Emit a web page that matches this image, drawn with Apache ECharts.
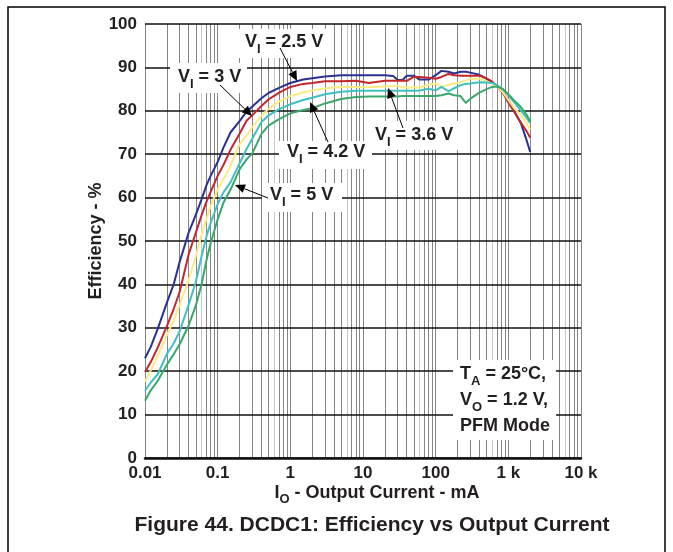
<!DOCTYPE html>
<html>
<head>
<meta charset="utf-8">
<title>DCDC1: Efficiency vs Output Current</title>
<script src="https://cdn.jsdelivr.net/npm/echarts@6/dist/echarts.min.js"></script>
<style>
  html, body { margin: 0; padding: 0; background: #fff; }
  #chart { width: 673px; height: 552px; }
</style>
</head>
<body>
<div id="chart"></div>
<script>
// output current in mA, shared by all curves
const current = [0.01, 0.012, 0.015, 0.02, 0.025, 0.03, 0.04, 0.05, 0.06, 0.07, 0.08, 0.1, 0.12, 0.15, 0.2, 0.25, 0.3, 0.4, 0.5, 0.7,
  1, 1.5, 2, 3, 5, 8, 12, 20, 26, 30, 35, 40, 50, 60, 80, 100, 120, 150, 180, 220, 260, 300, 400, 500, 600, 700, 850, 1000, 1200, 1500, 1800, 2000]

// efficiency in % for each input voltage
const effVi25 = [23.0, 25.6, 29.8, 35.8, 40.2, 45.2, 52.0, 56.0, 59.6, 62.8, 65.0, 68.2, 71.5, 75.0, 77.6, 79.8, 81.0, 82.9, 84.1, 85.3,
  86.4, 87.2, 87.5, 87.9, 88.2, 88.2, 88.2, 88.2, 88.0, 87.1, 87.1, 88.1, 88.1, 87.2, 87.2, 88.2, 89.2, 89.0, 88.6, 89.0, 89.0, 88.8, 88.3, 87.4, 86.6, 85.6, 84.2, 82.6, 80.0, 77.0, 73.0, 70.5]
const effVi3 = [19.8, 22.1, 25.5, 30.4, 34.5, 38.3, 47.0, 51.9, 55.9, 59.0, 61.3, 65.0, 67.5, 71.0, 74.7, 77.7, 79.0, 81.1, 82.6, 84.2,
  85.5, 86.2, 86.4, 86.8, 86.8, 86.9, 86.4, 86.9, 86.9, 86.9, 86.9, 86.9, 87.8, 87.8, 87.6, 87.4, 87.8, 88.5, 88.2, 88.1, 88.1, 88.1, 88.1, 87.5, 86.7, 85.6, 84.0, 81.9, 79.8, 77.2, 75.2, 73.8]
const effVi36 = [17.6, 20.2, 23.6, 28.3, 31.9, 35.3, 41.0, 46.5, 51.5, 55.0, 58.1, 61.9, 64.2, 67.3, 72.3, 74.3, 76.2, 78.9, 80.4, 82.1,
  83.4, 84.2, 84.7, 85.2, 85.5, 85.5, 85.4, 85.6, 85.7, 85.8, 85.4, 85.3, 85.4, 85.3, 86.0, 86.3, 85.5, 86.0, 86.3, 86.6, 87.0, 87.4, 87.4, 86.8, 86.2, 85.5, 84.2, 82.5, 80.6, 79.0, 77.0, 75.7]
const effVi42 = [15.5, 17.4, 19.3, 24.0, 26.5, 29.2, 35.4, 40.5, 46.5, 51.0, 54.2, 58.5, 61.2, 63.5, 67.9, 71.2, 73.6, 77.4, 78.9, 80.4,
  81.5, 82.5, 83.0, 83.8, 84.4, 84.6, 84.6, 84.6, 84.6, 84.6, 84.6, 84.6, 84.6, 84.7, 85.1, 84.7, 85.5, 84.5, 85.2, 85.9, 86.2, 86.3, 86.6, 86.5, 86.4, 85.9, 84.9, 83.6, 82.0, 80.0, 78.3, 77.2]
const effVi5 = [13.2, 15.6, 17.8, 21.5, 24.0, 26.2, 30.6, 35.1, 40.0, 45.5, 49.5, 55.0, 58.8, 61.8, 66.5, 68.8, 70.2, 74.7, 76.6, 78.1,
  79.4, 80.2, 80.6, 81.7, 82.7, 83.2, 83.3, 83.3, 83.3, 83.3, 83.4, 83.4, 83.4, 83.4, 83.4, 83.4, 83.6, 84.0, 83.6, 83.4, 81.8, 82.8, 84.2, 85.0, 85.5, 85.6, 85.0, 83.8, 82.4, 80.8, 79.0, 77.6]

const xTicks = [0.01, 0.1, 1, 10, 100, 1000, 10000]
const xTickLabels = ['0.01', '0.1', '1', '10', '100', '1 k', '10 k']

const FONT = '"Liberation Sans", Arial, Helvetica, sans-serif'

// vertical log grid lines: 1..9 in every decade
const minorLines = []
for (let d = -2; d <= 3; d++) {
  for (let m = 1; m <= 9; m++) {
    minorLines.push({
      xAxis: +(m * Math.pow(10, d)).toPrecision(3),
      lineStyle: { color: m === 6 ? '#c8c8c8' : '#858585', width: 1, type: 'solid' }
    })
  }
}
minorLines.push({ xAxis: 10000, lineStyle: { color: '#858585', width: 1, type: 'solid' } })

const curves = [
  { name: 'VI = 2.5 V', values: effVi25, color: '#2b3192' },
  { name: 'VI = 3 V', values: effVi3, color: '#c1272d' },
  { name: 'VI = 3.6 V', values: effVi36, color: '#f8ec86' },
  { name: 'VI = 4.2 V', values: effVi42, color: '#3fc1c0' },
  { name: 'VI = 5 V', values: effVi5, color: '#3ba76a' }
]

const series = curves.map(c => ({
  name: c.name,
  type: 'line',
  z: 3,
  symbol: 'none',
  smooth: false,
  lineStyle: { color: c.color, width: 2 },
  data: current.map((x, i) => [x, c.values[i]])
}))

// grid of gray verticals, kept below the black horizontals
series.push({
  type: 'line',
  data: [],
  silent: true,
  markLine: {
    z: 1,
    silent: true,
    symbol: ['none', 'none'],
    label: { show: false },
    data: minorLines
  }
})

// text with a subscript: {v|...} normal, {s|...} subscript
const rich = (size, lh) => ({
  v: { font: 'bold ' + size + 'px ' + FONT, fill: '#231f20', lineHeight: lh },
  s: { font: 'bold ' + Math.round(size * 0.72) + 'px ' + FONT, fill: '#231f20', lineHeight: lh, height: lh - 16, verticalAlign: 'bottom' }
})
const viText = v => '{v|V}{s|I}{v| = ' + v + ' V}'

const labels = [
  { box: [238, 29, 94, 29], x: 245, cap: 35, text: viText('2.5') },
  { box: [170, 63, 77, 30], x: 178, cap: 70, text: viText('3') },
  { box: [279, 141, 93, 28], x: 287, cap: 145, text: viText('4.2') },
  { box: [369, 121, 91, 29], x: 375, cap: 128, text: viText('3.6') },
  { box: [262, 183, 80, 29], x: 270, cap: 188, text: viText('5') }
]

const arrows = [
  [280, 48, 297, 81],
  [220, 85, 252, 116],
  [328, 142, 310, 102],
  [403, 128, 388, 88],
  [268, 198, 235, 185]
]

const graphics = []
graphics.push({
  type: 'rect', z: 100, silent: true,
  shape: { x: 8, y: 7, width: 657, height: 560 },
  style: { fill: 'none', stroke: '#000', lineWidth: 1.5 }
})
labels.forEach(l => {
  graphics.push({
    type: 'rect', z: 100, silent: true,
    shape: { x: l.box[0], y: l.box[1], width: l.box[2], height: l.box[3] },
    style: { fill: '#fff' }
  })
  graphics.push({
    type: 'text', z: 101, silent: true,
    style: { x: l.x, y: l.cap - 3.4, text: l.text, rich: rich(18, 20), verticalAlign: 'top', align: 'left' }
  })
})
arrows.forEach(([x1, y1, x2, y2]) => {
  const a = Math.atan2(y2 - y1, x2 - x1)
  const len = 10, w = 4.5
  const bx = x2 - len * Math.cos(a), by = y2 - len * Math.sin(a)
  graphics.push({
    type: 'line', z: 102, silent: true,
    shape: { x1: x1, y1: y1, x2: bx, y2: by },
    style: { stroke: '#000', lineWidth: 1 }
  })
  graphics.push({
    type: 'polygon', z: 102, silent: true,
    shape: { points: [[x2, y2], [bx + w * Math.sin(a), by - w * Math.cos(a)], [bx - w * Math.sin(a), by + w * Math.cos(a)]] },
    style: { fill: '#000' }
  })
})
// conditions box
graphics.push({
  type: 'rect', z: 100, silent: true,
  shape: { x: 453, y: 360, width: 103, height: 80 },
  style: { fill: '#fff' }
})
graphics.push({
  type: 'text', z: 101, silent: true,
  style: {
    x: 460, y: 360.6, verticalAlign: 'top', align: 'left',
    text: '{v|T}{s|A}{v| = 25°C,}\n{v|V}{s|O}{v| = 1.2 V,}\n{v|PFM Mode}',
    rich: rich(18, 26)
  }
})
// x axis name
graphics.push({
  type: 'text', z: 101, silent: true,
  style: {
    x: 377, y: 483.5, verticalAlign: 'top', align: 'center',
    text: '{v|I}{s|O}{v| - Output Current - mA}',
    rich: {
      v: { font: 'bold 18px ' + FONT, fill: '#231f20', lineHeight: 20 },
      s: { font: 'bold 13px ' + FONT, fill: '#231f20', lineHeight: 20, height: 8, verticalAlign: 'bottom' }
    }
  }
})
// figure caption
graphics.push({
  type: 'text', z: 101, silent: true,
  style: {
    x: 372, y: 525, text: 'Figure 44. DCDC1: Efficiency vs Output Current',
    font: 'bold 21px ' + FONT, fill: '#231f20', align: 'center', verticalAlign: 'middle'
  }
})

const chart = echarts.init(document.getElementById('chart'))
chart.setOption({
  animation: false,
  backgroundColor: '#fff',
  grid: { left: 145, right: 92, top: 24, bottom: 94, containLabel: false },
  xAxis: {
    type: 'log',
    logBase: 10,
    min: 0.01,
    max: 10000,
    z: 2,
    axisLine: { show: true, lineStyle: { color: '#111', width: 2.5 } },
    axisTick: { show: false },
    splitLine: { show: false },
    axisLabel: {
      margin: 7,
      color: '#231f20',
      fontFamily: FONT,
      fontWeight: 'bold',
      fontSize: 17,
      formatter: v => {
        const i = xTicks.findIndex(t => Math.abs(Math.log10(t) - Math.log10(v)) < 1e-6)
        return i >= 0 ? xTickLabels[i] : ''
      }
    }
  },
  yAxis: {
    type: 'value',
    min: 0,
    max: 100,
    interval: 10,
    z: 2,
    name: 'Efficiency - %',
    nameLocation: 'middle',
    nameGap: 40,
    nameMoveOverlap: false,
    nameTextStyle: { color: '#231f20', fontFamily: FONT, fontWeight: 'bold', fontSize: 18 },
    axisLine: { show: false },
    axisTick: { show: false },
    splitLine: { show: true, lineStyle: { color: '#111', width: 1.5 } },
    axisLabel: {
      margin: 8,
      color: '#231f20',
      fontFamily: FONT,
      fontWeight: 'bold',
      fontSize: 17
    }
  },
  graphic: graphics,
  series: series
})
</script>
</body>
</html>
